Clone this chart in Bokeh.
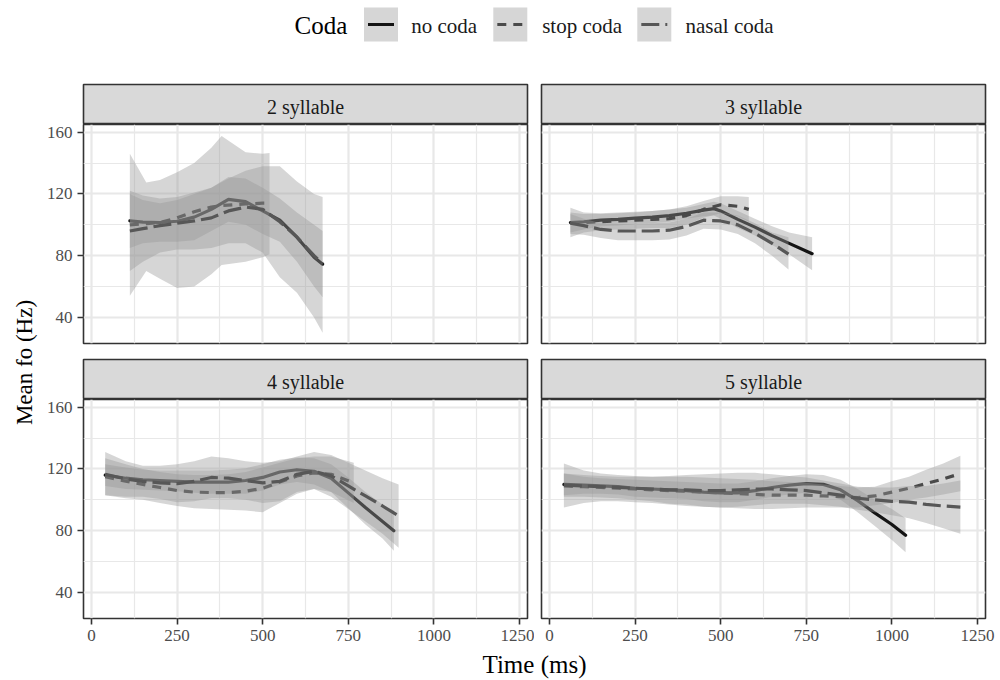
import numpy as np
from bokeh.plotting import figure
from bokeh.layouts import column, row
from bokeh.models import Range1d, FixedTicker, Grid, LinearAxis
from bokeh.core.properties import value
from bokeh.embed import file_html
from bokeh.resources import INLINE

FONT = "Liberation Serif"

# ---------------- data ----------------
PANELS = ["2 syllable", "3 syllable", "4 syllable", "5 syllable"]
CODAS = ["no coda", "stop coda", "nasal coda"]
X_TICKS = [0, 250, 500, 750, 1000, 1250]
X_MINOR = [125, 375, 625, 875, 1125]
Y_TICKS = [40, 80, 120, 160]
Y_MINOR = [60, 100, 140]
X_LIMITS = (-23.4, 1273.4)
Y_LIMITS = (23.1, 165.0)
X_TITLE = "Time (ms)"
Y_TITLE = "Mean fo (Hz)"
LEGEND_TITLE = "Coda"

# 2 syllable
P2_NO_T = [112, 150, 200, 250, 300, 350, 400, 450, 500, 550, 600, 650, 675]
P2_NO_FIT = [102.5, 101.8, 101.5, 102.3, 105, 110, 116.5, 115, 109, 103, 92, 79, 74.5]
P2_NO_LO = [85, 88, 89, 89, 90, 96, 102, 100, 94, 89, 76, 60, 53]
P2_NO_HI = [120, 116, 114, 116, 120, 124, 131, 130, 124, 117, 108, 100, 96]
P2_STOP_T = [112, 160, 200, 250, 300, 350, 380, 450, 500, 520]
P2_STOP_FIT = [100, 100.7, 101.5, 104.5, 108.5, 111.5, 112.5, 113.5, 114, 114]
P2_STOP_LO = [54, 70, 65, 59, 60, 68, 74, 76, 79, 81]
P2_STOP_HI = [146, 127.5, 129, 134, 140, 150, 157.5, 147, 146, 146.5]
P2_NAS_T = [112, 150, 200, 250, 300, 350, 400, 450, 500, 550, 600, 650, 675]
P2_NAS_FIT = [96, 97.5, 99.5, 101, 102.5, 104.5, 109, 111.5, 110, 102, 92, 80, 75]
P2_NAS_LO = [70, 76, 82, 84, 84, 85, 88, 88, 82, 66, 56, 40, 30]
P2_NAS_HI = [122, 119, 117, 118, 121, 124, 130, 135, 138, 138, 128, 120, 118]

# 3 syllable
P3_NO_T = [61, 100, 150, 200, 250, 300, 350, 400, 450, 480, 500, 550, 600, 650, 700, 767]
P3_NO_FIT = [101.5, 102, 103, 103.5, 104.3, 105, 106, 107.5, 109.5, 110.5, 109, 103.5, 98.5, 93, 88, 81.3]
P3_NO_LO = [95, 97, 99, 99.5, 100.5, 101, 102, 104, 105.5, 106, 104, 98, 93, 87, 81, 70.5]
P3_NO_HI = [108, 107, 107, 107.5, 108, 109, 110, 111, 113.5, 115, 114, 109, 104, 99, 95, 92]
P3_STOP_T = [61, 100, 150, 200, 250, 300, 350, 400, 450, 500, 550, 582]
P3_STOP_FIT = [101, 101.5, 102, 102.5, 103, 103.5, 104, 106, 110, 113, 112, 110]
P3_STOP_LO = [92, 95, 96.5, 97, 97.5, 98, 98, 100, 104.5, 107.5, 105.5, 102]
P3_STOP_HI = [111, 108, 107.5, 108, 108.5, 109, 110, 112, 115.5, 118.5, 118.5, 118]
P3_NAS_T = [61, 100, 150, 200, 250, 300, 350, 400, 450, 500, 550, 600, 650, 698]
P3_NAS_FIT = [101, 99.5, 97, 96, 96, 96, 96.5, 99, 103, 102.5, 100, 94.5, 88, 81]
P3_NAS_LO = [94, 93.5, 91.5, 90, 90, 90, 90.5, 93, 97.5, 97, 94, 88, 80, 71]
P3_NAS_HI = [107, 104, 101, 100.5, 100.5, 101, 101.5, 104, 108, 108, 106, 101, 95, 92]

# 4 syllable
P4_NO_T = [40, 100, 150, 200, 250, 300, 350, 400, 450, 500, 550, 600, 650, 700, 750, 800, 850, 883]
P4_NO_FIT = [116, 114, 113, 112.5, 112, 111.5, 111.5, 111.5, 112.5, 114.5, 118, 119.5, 118.5, 114, 104.5, 95, 86, 80]
P4_NO_LO = [109, 107, 106.5, 106, 105.5, 104.5, 104, 104, 104, 106, 110, 111.5, 110, 105, 94.5, 84, 75, 67]
P4_NO_HI = [123, 121, 119.5, 119, 119, 119, 119, 119.5, 120.5, 123, 126, 127.5, 127, 123, 114.5, 105, 97, 93]
P4_STOP_T = [40, 100, 150, 200, 250, 300, 350, 400, 450, 500, 550, 600, 650, 700, 766]
P4_STOP_FIT = [115, 112, 110, 108, 106, 105, 104.7, 104.7, 105.5, 107.5, 111.5, 115.5, 117.5, 116.5, 111]
P4_STOP_LO = [103, 101, 100, 98, 96, 94.5, 94, 93.5, 93, 92, 98, 104, 107, 105, 98]
P4_STOP_HI = [127, 123, 120, 118, 116.5, 116, 116, 116.5, 118, 121, 124, 127, 128, 128, 124]
P4_NAS_T = [40, 100, 150, 200, 250, 300, 350, 400, 450, 500, 550, 600, 650, 700, 750, 800, 850, 897]
P4_NAS_FIT = [116.5, 113.5, 112, 111, 110.5, 112, 114.5, 114, 112.5, 111, 112, 116.5, 118.5, 115.5, 109, 102.5, 96, 89.5]
P4_NAS_LO = [103, 102, 102, 100.5, 98.5, 99, 101, 101, 100, 98, 99, 105, 107, 102, 94, 86, 78, 69]
P4_NAS_HI = [131, 125, 122, 122, 123, 125, 128, 127, 125, 124, 125, 128, 131, 129, 124, 119, 114, 110]

# 5 syllable
P5_NO_T = [42, 100, 150, 200, 250, 300, 350, 400, 450, 500, 550, 600, 650, 700, 750, 800, 850, 900, 950, 1000, 1040]
P5_NO_FIT = [110, 109.5, 109, 108.5, 107.5, 107, 106.5, 106, 105, 104.5, 104.5, 106, 108, 109.5, 110.5, 110, 106.5, 99.5, 91.5, 84, 77]
P5_NO_LO = [103, 104, 104, 103.5, 102, 101.5, 101, 100.5, 99, 98.5, 98.5, 100, 102, 103.5, 104.5, 104, 100, 92, 83, 74, 66]
P5_NO_HI = [117, 115, 114, 113.5, 113, 112.5, 112, 111.5, 111, 110.5, 110.5, 112, 114, 115.5, 116.5, 116, 113, 107, 100, 94, 88]
P5_STOP_T = [42, 100, 150, 200, 250, 300, 350, 400, 450, 500, 550, 600, 650, 700, 750, 800, 850, 900, 950, 1000, 1050, 1100, 1150, 1200]
P5_STOP_FIT = [109, 108.5, 108, 107.5, 107, 106.5, 106, 105.5, 105, 104.5, 104, 103.5, 103, 103, 103, 102.5, 102, 101.5, 102.5, 105, 107.5, 110.5, 113.5, 117]
P5_STOP_LO = [95, 98, 99, 99, 98.5, 98, 97, 96, 95.5, 95, 94.5, 94, 94, 94.5, 95, 95, 95, 95, 96.5, 98, 100, 101.5, 103.5, 105.5]
P5_STOP_HI = [123.5, 119, 117, 116, 115.5, 115, 115, 115, 114.5, 114, 113.5, 113, 112, 111.5, 111, 110, 109, 108, 108.5, 112, 115, 119.5, 123.5, 128.5]
P5_NAS_T = [42, 100, 150, 200, 250, 300, 350, 400, 450, 500, 550, 600, 650, 700, 750, 800, 850, 900, 950, 1000, 1050, 1100, 1150, 1200]
P5_NAS_FIT = [109.5, 109, 108.5, 108, 107.5, 107, 106.5, 106.5, 106, 106, 106.5, 107, 107, 106.5, 106, 104.5, 103, 101, 100, 99, 98.5, 97, 96, 95.3]
P5_NAS_LO = [102, 102, 101.5, 101, 100, 99, 97.5, 97, 95.5, 95, 95.5, 96.5, 97.5, 97.5, 97.5, 96.5, 95.5, 93.5, 92, 90, 88, 85, 81.5, 78]
P5_NAS_HI = [117, 116, 115.5, 115, 115, 115, 115.5, 116, 116.5, 117, 117.5, 117.5, 116.5, 115.5, 114.5, 112.5, 110.5, 108.5, 108, 108, 109, 109, 110.5, 112.5]

SERIES = {
    "2 syllable": [(P2_NO_T, P2_NO_FIT, P2_NO_LO, P2_NO_HI),
                   (P2_STOP_T, P2_STOP_FIT, P2_STOP_LO, P2_STOP_HI),
                   (P2_NAS_T, P2_NAS_FIT, P2_NAS_LO, P2_NAS_HI)],
    "3 syllable": [(P3_NO_T, P3_NO_FIT, P3_NO_LO, P3_NO_HI),
                   (P3_STOP_T, P3_STOP_FIT, P3_STOP_LO, P3_STOP_HI),
                   (P3_NAS_T, P3_NAS_FIT, P3_NAS_LO, P3_NAS_HI)],
    "4 syllable": [(P4_NO_T, P4_NO_FIT, P4_NO_LO, P4_NO_HI),
                   (P4_STOP_T, P4_STOP_FIT, P4_STOP_LO, P4_STOP_HI),
                   (P4_NAS_T, P4_NAS_FIT, P4_NAS_LO, P4_NAS_HI)],
    "5 syllable": [(P5_NO_T, P5_NO_FIT, P5_NO_LO, P5_NO_HI),
                   (P5_STOP_T, P5_STOP_FIT, P5_STOP_LO, P5_STOP_HI),
                   (P5_NAS_T, P5_NAS_FIT, P5_NAS_LO, P5_NAS_HI)],
}

# ---------------- styles ----------------
LINE_COLORS = ["#141414", "#4a4a4a", "#575757"]
LINE_DASH = ["solid", "9 7", "18 6"]
LINE_W = 3.2
RIBBON_COLOR = "#999999"
RIBBON_ALPHA = 0.4
GRID_COLOR = "#E8E8E8"
BORDER_COLOR = "#333333"
STRIP_FILL = "#D9D9D9"
TICK_TEXT = "#4D4D4D"

LEFT_W, RIGHT_W = 494, 466
FRAME_H = 219


def strip_grids(p):
    p.center = [r for r in p.center if not isinstance(r, Grid)]


def base_fig(width, height, xr, yr, bl, br, bt, bb):
    p = figure(width=width, height=height, x_range=xr, y_range=yr,
               x_axis_location=None, y_axis_location=None,
               toolbar_location=None, output_backend="svg",
               min_border_left=bl, min_border_right=br,
               min_border_top=bt, min_border_bottom=bb)
    strip_grids(p)
    p.background_fill_color = "white"
    p.border_fill_color = "white"
    p.outline_line_color = None
    return p


def style_axis(ax):
    ax.axis_line_color = None
    ax.major_tick_line_color = BORDER_COLOR
    ax.major_tick_line_width = 1.6
    ax.major_tick_out = 6
    ax.major_tick_in = 0
    ax.minor_tick_line_color = None
    ax.major_label_standoff = 5
    ax.major_label_text_font = FONT
    ax.major_label_text_font_size = "17px"
    ax.major_label_text_color = TICK_TEXT


def make_panel(name, left, bottom):
    w = LEFT_W if left else RIGHT_W
    bb = 34 if bottom else 15
    p = base_fig(w, FRAME_H + bb, Range1d(*X_LIMITS), Range1d(*Y_LIMITS),
                 43 if left else 7, 7 if left else 15, 0, bb)
    p.outline_line_color = BORDER_COLOR
    p.outline_line_width = 1.6
    xt = FixedTicker(ticks=X_TICKS, minor_ticks=X_MINOR)
    yt = FixedTicker(ticks=Y_TICKS, minor_ticks=Y_MINOR)
    for dim, tk in ((0, xt), (1, yt)):
        g = Grid(dimension=dim, ticker=tk, grid_line_color=GRID_COLOR, grid_line_width=2.2,
                 minor_grid_line_color=GRID_COLOR, minor_grid_line_width=1.2)
        p.add_layout(g, "center")
    if left:
        ax = LinearAxis(ticker=yt)
        style_axis(ax)
        p.add_layout(ax, "left")
    if bottom:
        ax = LinearAxis(ticker=xt)
        style_axis(ax)
        p.add_layout(ax, "below")
    for i, (t, fit, lo, hi) in enumerate(SERIES[name]):
        p.varea(x=t, y1=lo, y2=hi, fill_color=RIBBON_COLOR, fill_alpha=RIBBON_ALPHA)
        p.line(x=t, y=fit, line_color=LINE_COLORS[i], line_width=LINE_W,
               line_dash=LINE_DASH[i], line_join="round",
               line_cap="round" if i == 0 else "butt")
    return p


def make_strip(name, left):
    w = LEFT_W if left else RIGHT_W
    p = base_fig(w, 41, Range1d(0, 1), Range1d(0, 1),
                 43 if left else 7, 7 if left else 15, 1, 0)
    p.background_fill_color = STRIP_FILL
    p.outline_line_color = BORDER_COLOR
    p.outline_line_width = 1.6
    p.text(x=[0.5], y=[0.45], text=[name], text_font=value(FONT), text_font_size="20px",
           text_align="center", text_baseline="middle", text_color="#1A1A1A")
    return p


# legend
leg = base_fig(1000, 83, Range1d(0, 1000), Range1d(83, 0), 0, 0, 0, 0)
leg.text(x=[294], y=[25], text=[LEGEND_TITLE], text_font=value(FONT), text_font_size="25px",
         text_align="left", text_baseline="middle", text_color="black")
KEY_X = [363.5, 492.8, 636.8]
LAB_X = [410.7, 541.7, 685]
for i, c in enumerate(CODAS):
    leg.rect(x=[KEY_X[i] + 17], y=[24], width=34, height=34, fill_color=RIBBON_COLOR,
             fill_alpha=RIBBON_ALPHA, line_color=None)
    leg.line(x=[KEY_X[i] + 4, KEY_X[i] + 30], y=[24, 24], line_color=LINE_COLORS[i],
             line_width=LINE_W, line_dash=LINE_DASH[i])
    leg.text(x=[LAB_X[i]], y=[25], text=[c], text_font=value(FONT), text_font_size="21px",
             text_align="left", text_baseline="middle", text_color="#1A1A1A")

# y label
ylab = base_fig(40, 41 + FRAME_H + 15 + 41 + FRAME_H + 34, Range1d(0, 40), Range1d(652, 83), 0, 0, 0, 0)
ylab.text(x=[24], y=[362], text=[Y_TITLE], text_font=value(FONT), text_font_size="23px",
          text_align="center", text_baseline="middle", angle=np.pi / 2, text_color="black")

# x label
xlab = base_fig(1000, 28, Range1d(0, 1000), Range1d(28, 0), 0, 0, 0, 0)
xlab.text(x=[534], y=[12], text=[X_TITLE], text_font=value(FONT), text_font_size="25px",
          text_align="center", text_baseline="middle", text_color="black")

grid_col = column(
    row(make_strip(PANELS[0], True), make_strip(PANELS[1], False)),
    row(make_panel(PANELS[0], True, False), make_panel(PANELS[1], False, False)),
    row(make_strip(PANELS[2], True), make_strip(PANELS[3], False)),
    row(make_panel(PANELS[2], True, True), make_panel(PANELS[3], False, True)),
)

layout = column(leg, row(ylab, grid_col), xlab)

open("out.html", "w").write(file_html(layout, INLINE))
